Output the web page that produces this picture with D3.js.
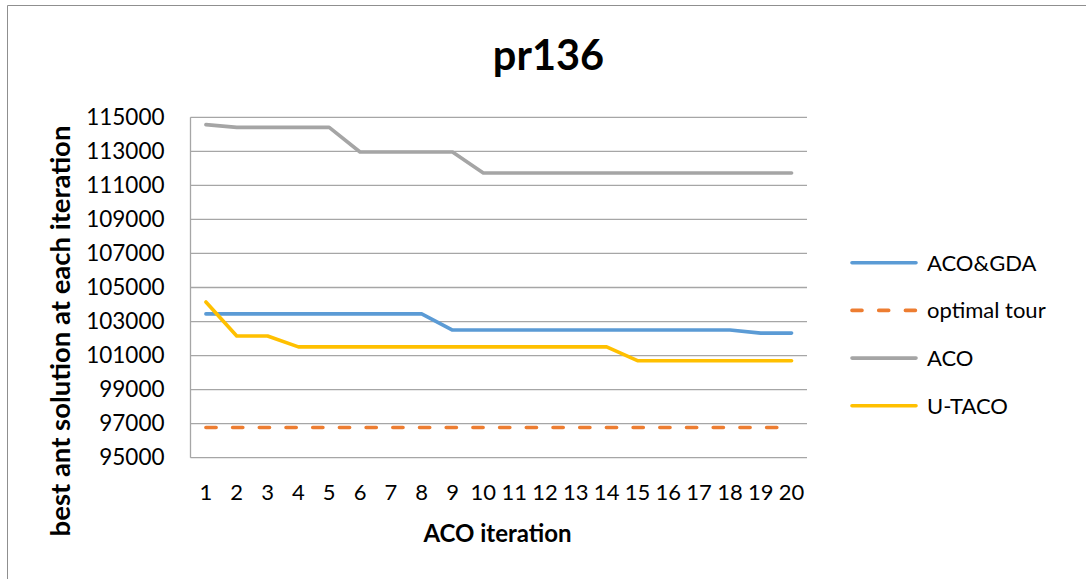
<!DOCTYPE html>
<html>
<head>
<meta charset="utf-8">
<script src="https://cdn.jsdelivr.net/npm/d3@7"></script>
<style>
  body { margin: 0; background: #fff; }
  svg { display: block; font-family: Lato, "Open Sans", sans-serif; }
</style>
</head>
<body>
<div id="chart"></div>
<script>
// data
const iterations = d3.range(1, 21);
const acoGda = [103450, 103450, 103450, 103450, 103450, 103450, 103450, 103450, 102500, 102500,
                102500, 102500, 102500, 102500, 102500, 102500, 102500, 102500, 102320, 102320];
const optimalTour = Array(20).fill(96772);
const aco = [114570, 114410, 114410, 114410, 114410, 112960, 112960, 112960, 112960, 111730,
             111730, 111730, 111730, 111730, 111730, 111730, 111730, 111730, 111730, 111730];
const uTaco = [104150, 102150, 102150, 101510, 101510, 101510, 101510, 101510, 101510, 101510,
               101510, 101510, 101510, 101510, 100700, 100700, 100700, 100700, 100700, 100700];
const yTicks = d3.range(95000, 115001, 2000);
const seriesNames = ["ACO&GDA", "optimal tour", "ACO", "U-TACO"];
const seriesColors = ["#5B9BD5", "#ED7D31", "#A5A5A5", "#FFC000"];

const W = 1086, H = 579;
const margin = { top: 117.3, left: 190.5 };
const width = 616.5, height = 340.4;

const svg = d3.select("#chart").append("svg")
    .attr("width", W)
    .attr("height", H);

// outer frame (only top and left show in the picture)
svg.append("path")
    .attr("d", `M7.5,${H + 5}V5.5H${W + 5}`)
    .attr("fill", "none")
    .attr("stroke", "#8f8f8f")
    .attr("stroke-width", 1);

const g = svg.append("g")
    .attr("transform", `translate(${margin.left},${margin.top})`);

const x = d3.scaleBand().domain(iterations).range([0, width]).padding(0);
const y = d3.scaleLinear().domain([95000, 115000]).range([height, 0]);
const cx = d => x(d) + x.bandwidth() / 2;

// gridlines
g.append("g")
    .selectAll("line")
    .data(yTicks)
    .join("line")
    .attr("x1", 0)
    .attr("x2", width)
    .attr("y1", d => y(d))
    .attr("y2", d => y(d))
    .attr("stroke", "#a6a6a6")
    .attr("stroke-width", 1.3);

// left axis line
g.append("line")
    .attr("x1", 0).attr("x2", 0)
    .attr("y1", 0).attr("y2", height)
    .attr("stroke", "#a6a6a6")
    .attr("stroke-width", 1.3);

// y tick labels
const yAxis = g.append("g")
    .call(d3.axisLeft(y).tickValues(yTicks).tickSize(0).tickPadding(26).tickFormat(d3.format("d")));
yAxis.select(".domain").remove();
yAxis.selectAll("text")
    .attr("font-size", 22.5)
    .attr("font-family", "Lato")
    .attr("fill", "#000");

// x tick labels
const xAxis = g.append("g")
    .attr("transform", `translate(0,${height})`)
    .call(d3.axisBottom(x).tickSize(0).tickPadding(0));
xAxis.select(".domain").remove();
xAxis.selectAll("text")
    .attr("y", 42.5)
    .attr("dy", null)
    .attr("font-size", 22)
    .attr("font-family", "Lato")
    .attr("fill", "#000");

// lines
const allSeries = [acoGda, optimalTour, aco, uTaco];
const line = d3.line()
    .x((d, i) => cx(iterations[i]))
    .y(d => y(d));

// draw order: ACO&GDA, optimal, ACO, U-TACO
allSeries.forEach(function (values, i) {
    g.append("path")
        .datum(values)
        .attr("fill", "none")
        .attr("stroke", seriesColors[i])
        .attr("stroke-width", 3.6)
        .attr("stroke-linejoin", "round")
        .attr("stroke-linecap", "round")
        .attr("stroke-dasharray", i === 1 ? "10.2,16.5" : null)
        .attr("d", line);
});

// title
svg.append("text")
    .attr("x", 548.5)
    .attr("y", 70)
    .attr("text-anchor", "middle")
    .attr("font-size", 41.5)
    .attr("font-weight", "bold")
    .text("pr136");

// axis titles
svg.append("text")
    .attr("x", 497.5)
    .attr("y", 542)
    .attr("text-anchor", "middle")
    .attr("font-size", 24)
    .attr("font-weight", "bold")
    .text("ACO iteration");

svg.append("text")
    .attr("transform", "translate(70,331) rotate(-90)")
    .attr("text-anchor", "middle")
    .attr("font-size", 27.5)
    .attr("font-weight", "bold")
    .text("best ant solution at each iteration");

// legend
const legend = svg.append("g").attr("transform", "translate(850,262.7)");
seriesNames.forEach(function (name, i) {
    const row = legend.append("g").attr("transform", `translate(0,${i * 47.7})`);
    row.append("line")
        .attr("x1", 2).attr("x2", 66)
        .attr("stroke", seriesColors[i])
        .attr("stroke-width", 3.6)
        .attr("stroke-linecap", "round")
        .attr("stroke-dasharray", i === 1 ? "10,16.7" : null);
    row.append("text")
        .attr("x", 77)
        .attr("dy", "0.36em")
        .attr("font-size", 22)
        .text(name);
});
</script>
</body>
</html>
